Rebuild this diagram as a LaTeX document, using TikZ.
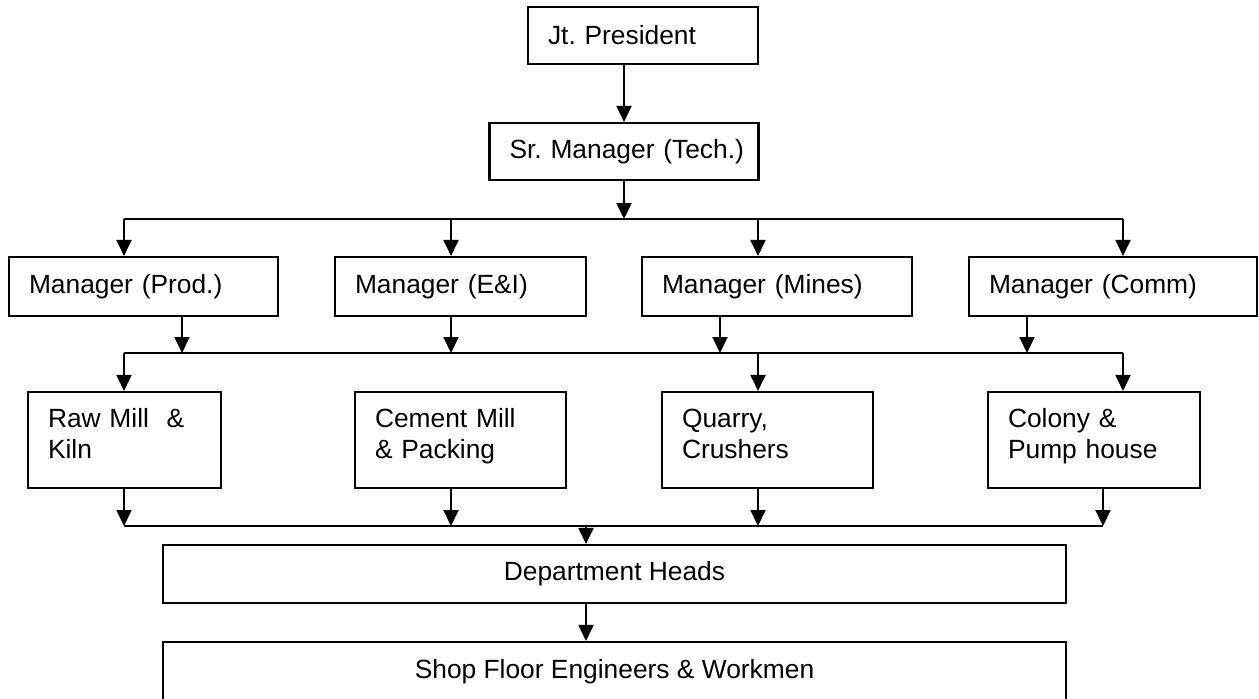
\documentclass[tikz,border=0pt]{standalone}
\usepackage{fontspec}
\setmainfont{Liberation Sans}
\usetikzlibrary{arrows.meta}
\frenchspacing

\begin{document}
\begin{tikzpicture}[x=0.02cm, y=-0.02cm,
  every node/.style={font=\fontsize{15}{18}\selectfont},
  orgbox/.style={draw, line width=1.2pt, align=left, inner xsep=0.4cm, inner ysep=0pt},
  twoline/.style={text height=0.39cm, text depth=0.91cm, minimum height=1.92cm},
  widebox/.style={draw, line width=1.2pt, align=center, inner sep=0pt, minimum width=18.06cm},
  arr/.style={-{Triangle[length=0.32cm, width=0.3cm]}, line width=1.1pt},
  bus/.style={line width=1.1pt}]
  \clip (0,0) rectangle (1259,698);
  % top of the chart
  \node[orgbox, text width=3.8cm, minimum height=1.14cm] (jt) at (643,35.5) {Jt. President};
  \node[orgbox, text width=4.58cm, minimum height=1.14cm] (sr) at (624,151.5) {\mbox{Sr. Manager (Tech.)}};
  % managers
  \node[orgbox, text width=4.58cm, minimum height=1.18cm] (prod) at (143.5,286.5) {Manager (Prod.)};
  \node[orgbox, text width=4.22cm, minimum height=1.18cm] (eni) at (460.5,286.5) {Manager (E\&I)};
  \node[orgbox, text width=4.6cm, minimum height=1.18cm] (mines) at (777,286.5) {Manager (Mines)};
  \node[orgbox, text width=4.96cm, minimum height=1.18cm] (comm) at (1113,286.5) {Manager (Comm)};
  % sections
  \node[orgbox, twoline, text width=3.06cm] (raw) at (124.5,440) {Raw Mill\ \ \&\\Kiln};
  \node[orgbox, twoline, text width=3.42cm] (cement) at (460.5,440) {Cement Mill\\\& Packing};
  \node[orgbox, twoline, text width=3.42cm] (quarry) at (767.5,440) {Quarry,\\Crushers};
  \node[orgbox, twoline, text width=3.44cm] (colony) at (1094,440) {Colony \&\\Pump house};
  % bottom
  \node[widebox, minimum height=1.16cm] (dept) at (614.5,574) {Department Heads};
  \node[widebox, minimum height=1.2cm] (shop) at (614.5,672) {Shop Floor Engineers \& Workmen};

  % taps on the three buses
  \coordinate (m1) at (124,219);
  \coordinate (m2) at (451,219);
  \coordinate (m3) at (758,219);
  \coordinate (m4) at (1123,219);
  \coordinate (u1) at (182,353);
  \coordinate (u2) at (451,353);
  \coordinate (u3) at (720,353);
  \coordinate (u4) at (1027,353);
  \coordinate (l1) at (124,353);
  \coordinate (l3) at (758,353);
  \coordinate (l4) at (1123,353);
  \coordinate (v1) at (124,526);
  \coordinate (v2) at (451,526);
  \coordinate (v3) at (758,526);
  \coordinate (v4) at (1103,526);
  \coordinate (d) at (586,526);

  \draw[arr] (sr.north |- jt.south) -- (sr.north);
  \draw[arr] (sr.south) -- (sr.south |- m1);
  \draw[bus] (m1) -- (m4);
  \foreach \t/\n in {m1/prod,m2/eni,m3/mines,m4/comm}
    \draw[arr] (\t) -- (\t |- \n.north);
  \foreach \n/\t in {prod/u1,eni/u2,mines/u3,comm/u4}
    \draw[arr] (\n.south -| \t) -- (\t);
  \draw[bus] (l1) -- (l4);
  \foreach \t/\n in {l1/raw,l3/quarry,l4/colony}
    \draw[arr] (\t) -- (\t |- \n.north);
  \foreach \n/\t in {raw/v1,cement/v2,quarry/v3,colony/v4}
    \draw[arr] (\n.south -| \t) -- (\t);
  \draw[bus] (v1) -- (v4);
  \draw[arr] (d) -- (d |- dept.north);
  \draw[arr] (dept.south -| d) -- (d |- shop.north);
\end{tikzpicture}
\end{document}
